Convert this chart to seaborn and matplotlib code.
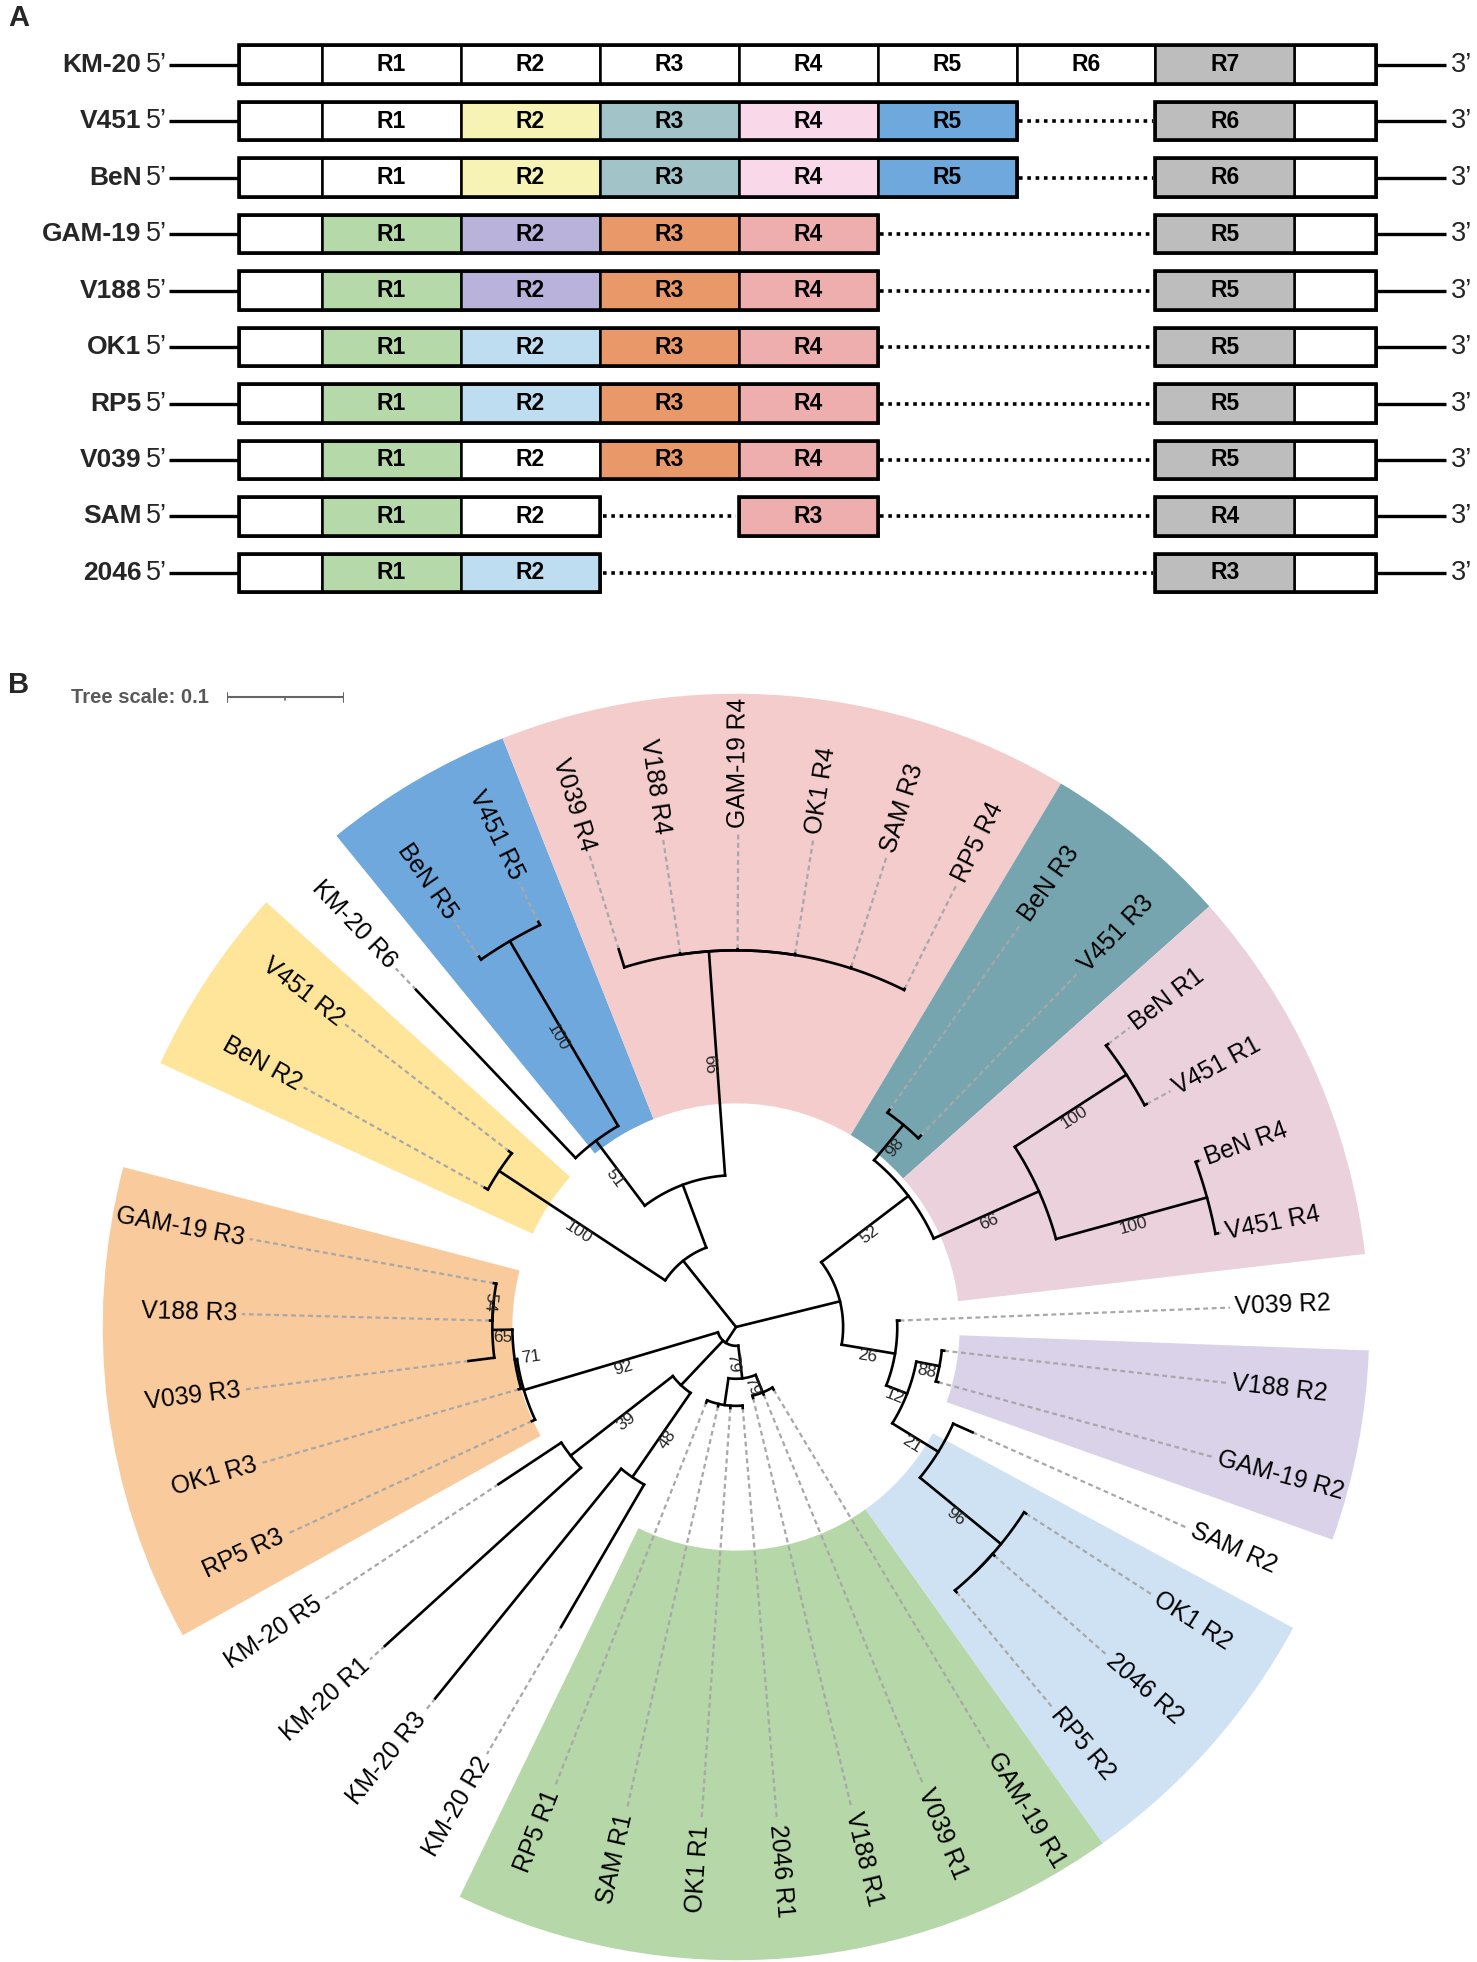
import numpy as np
import matplotlib
matplotlib.use("Agg")
import matplotlib.pyplot as plt
import seaborn as sns

sns.set_theme(style="white")
plt.rcParams['font.family'] = ['Liberation Sans', 'DejaVu Sans']

W, H = 1477, 1962

# ---------------- panel A : repeat layout per strain ----------------
strains = ["KM-20", "V451", "BeN", "GAM-19", "V188", "OK1", "RP5", "V039", "SAM", "2046"]
# slot of each repeat along the gene (missing slots = deleted repeats)
repeat_slots = [
    [0, 1, 2, 3, 4, 5, 6],
    [0, 1, 2, 3, 4, 6],
    [0, 1, 2, 3, 4, 6],
    [0, 1, 2, 3, 6],
    [0, 1, 2, 3, 6],
    [0, 1, 2, 3, 6],
    [0, 1, 2, 3, 6],
    [0, 1, 2, 3, 6],
    [0, 1, 3, 6],
    [0, 1, 6],
]
repeat_types = [
    ["none", "none", "none", "none", "none", "none", "last"],
    ["none", "r2_bv", "r3_bv", "r4_bv", "r5_bv", "last"],
    ["none", "r2_bv", "r3_bv", "r4_bv", "r5_bv", "last"],
    ["r1", "r2_gv", "r3", "r4", "last"],
    ["r1", "r2_gv", "r3", "r4", "last"],
    ["r1", "r2_or", "r3", "r4", "last"],
    ["r1", "r2_or", "r3", "r4", "last"],
    ["r1", "none", "r3", "r4", "last"],
    ["r1", "none", "r4", "last"],
    ["r1", "r2_or", "last"],
]
type_colors = {
    "none": "#FFFFFF", "last": "#BDBDBD",
    "r2_bv": "#F7F3B5", "r3_bv": "#A2C4C9", "r4_bv": "#F9D8EA", "r5_bv": "#6FA8DC",
    "r1": "#B6D9A9", "r2_gv": "#B9B3DB", "r2_or": "#BFDDF1",
    "r3": "#E9986A", "r4": "#EEAEAE",
}

# ---------------- panel B : tree ----------------
leaf_names = ["BeN R2", "V451 R2", "KM-20 R6", "BeN R5", "V451 R5",
              "V039 R4", "V188 R4", "GAM-19 R4", "OK1 R4", "SAM R3", "RP5 R4",
              "BeN R3", "V451 R3", "BeN R1", "V451 R1", "BeN R4", "V451 R4",
              "V039 R2", "V188 R2", "GAM-19 R2", "SAM R2", "OK1 R2", "2046 R2", "RP5 R2",
              "GAM-19 R1", "V039 R1", "V188 R1", "2046 R1", "OK1 R1", "SAM R1", "RP5 R1",
              "KM-20 R2", "KM-20 R3", "KM-20 R1", "KM-20 R5",
              "RP5 R3", "OK1 R3", "V039 R3", "V188 R3", "GAM-19 R3"]
leaf_depth = [0.244, 0.244, 0.395, 0.383, 0.383,
              0.336, 0.321, 0.321, 0.321, 0.321, 0.321,
              0.226, 0.226, 0.397, 0.397, 0.417, 0.417,
              0.139, 0.178, 0.178, 0.220, 0.293, 0.293, 0.293,
              0.062, 0.062, 0.062, 0.069, 0.069, 0.069, 0.069,
              0.295, 0.406, 0.403, 0.242,
              0.191, 0.192, 0.229, 0.209, 0.209]

node_ids = ["root", "Ntop", "Yel", "Nu", "N51", "Blu", "P", "P2",
            "Nright", "N52", "Teal", "Mauve", "R1p", "R4p",
            "N26", "N12", "N88", "N21", "N96", "N96b",
            "Nx", "N79a", "G3", "G4", "Na", "N48", "N39",
            "O92", "O71", "O65", "O54"]
node_children = [
    ["Ntop", "Nright", "Nx"],
    ["Yel", "Nu"],
    ["BeN R2", "V451 R2"],
    ["N51", "P"],
    ["KM-20 R6", "Blu"],
    ["BeN R5", "V451 R5"],
    ["V039 R4", "P2"],
    ["V188 R4", "GAM-19 R4", "OK1 R4", "SAM R3", "RP5 R4"],
    ["N52", "N26"],
    ["Teal", "Mauve"],
    ["BeN R3", "V451 R3"],
    ["R1p", "R4p"],
    ["BeN R1", "V451 R1"],
    ["BeN R4", "V451 R4"],
    ["V039 R2", "N12"],
    ["N88", "N21"],
    ["V188 R2", "GAM-19 R2"],
    ["SAM R2", "N96"],
    ["OK1 R2", "N96b"],
    ["2046 R2", "RP5 R2"],
    ["N79a", "Na", "O92"],
    ["G3", "G4"],
    ["GAM-19 R1", "V039 R1", "V188 R1"],
    ["2046 R1", "OK1 R1", "SAM R1", "RP5 R1"],
    ["N48", "N39"],
    ["KM-20 R2", "KM-20 R3"],
    ["KM-20 R1", "KM-20 R5"],
    ["RP5 R3", "O71"],
    ["OK1 R3", "O65"],
    ["V039 R3", "O54"],
    ["V188 R3", "GAM-19 R3"],
]
node_depth = [0.0, 0.072, 0.241, 0.129, 0.198, 0.380, 0.320, 0.320,
              0.091, 0.184, 0.223, 0.282, 0.395, 0.415,
              0.137, 0.156, 0.176, 0.202, 0.291, 0.291,
              0.016, 0.044, 0.060, 0.067, 0.068, 0.155, 0.178,
              0.188, 0.190, 0.207, 0.207]
node_support = [None, None, 100, None, 51, 100, 66, None,
                None, 52, 98, 66, 100, 100,
                26, 12, 88, 21, 96, None,
                None, 79, 79, None, None, 48, 39,
                92, 71, 65, 54]

clade_first = ["BeN R2", "BeN R5", "V039 R4", "BeN R3", "BeN R1", "V188 R2", "OK1 R2", "GAM-19 R1", "RP5 R3"]
clade_last = ["V451 R2", "V451 R5", "RP5 R4", "V451 R3", "V451 R4", "GAM-19 R2", "RP5 R2", "RP5 R1", "GAM-19 R3"]
clade_colors = ["#FFE599", "#6FA8DC", "#F4CCCC", "#76A5AF", "#EAD1DC", "#D9D2E9", "#CFE2F3", "#B6D7A8", "#F9CB9C"]

fig = plt.figure(figsize=(W / 100, H / 100), dpi=100)

# ----- panel A drawing -----
ax_a = fig.add_axes([0, 1 - 620 / H, 1, 620 / H])
ax_a.set_xlim(-2.318, 8.315)
ax_a.set_ylim(9.832, -1.142)
ax_a.set_axis_off()
bh = 0.68
for i, (name, slots, kinds) in enumerate(zip(strains, repeat_slots, repeat_types)):
    ax_a.plot([-1.10, -0.6], [i, i], color="black", lw=2.4, solid_capstyle="butt")
    ax_a.plot([7.59, 8.09], [i, i], color="black", lw=2.4, solid_capstyle="butt")
    ax_a.barh(i, 0.6, left=-0.6, height=bh, color="white", edgecolor="black", lw=1.8)
    ax_a.barh(i, 0.59, left=7, height=bh, color="white", edgecolor="black", lw=1.8)
    for n, (s, k) in enumerate(zip(slots, kinds)):
        ax_a.barh(i, 1, left=s, height=bh, color=type_colors[k], edgecolor="black", lw=1.8)
        ax_a.text(s + 0.5, i, f"R{n + 1}", ha="center", va="center",
                  fontsize=16.5, fontweight="bold", color="black")
    # contiguous blocks and deletion gaps
    runs = []
    start = prev = slots[0]
    for s in slots[1:]:
        if s != prev + 1:
            runs.append([start, prev + 1])
            start = s
        prev = s
    runs.append([start, prev + 1])
    runs[0][0] = -0.6
    runs[-1][1] = 7.59
    for a, b in runs:
        ax_a.barh(i, b - a, left=a, height=bh, fill=False, edgecolor="black", lw=2.6)
    for r1, r2 in zip(runs[:-1], runs[1:]):
        ax_a.plot([r1[1] + 0.02, r2[0] - 0.02], [i, i], color="black", lw=2.6,
                  ls=(0, (1.0, 1.3)))
    ax_a.text(-1.30, i, name, ha="right", va="center", fontsize=19, fontweight="bold")
    ax_a.text(-1.115, i, "5\u2019", ha="right", va="center", fontsize=19.5)
    ax_a.text(8.13, i, "3\u2019", ha="left", va="center", fontsize=19.5)

fig.text(8 / W, 1 - 4 / H, "A", fontsize=21, fontweight="bold", va="top", ha="left")
fig.text(8 / W, 1 - 671 / H, "B", fontsize=21, fontweight="bold", va="top", ha="left")

# ----- panel B drawing -----
cx, cy, px_per_unit, rmax = 736, 1327, 1177.0, 0.6
rad_px = rmax * px_per_unit
ax = fig.add_axes([(cx - rad_px) / W, 1 - (cy + rad_px) / H, 2 * rad_px / W, 2 * rad_px / H],
                  projection="polar")
ax.set_ylim(0, rmax)
ax.set_axis_off()

start_deg, step_deg = 151.0, 8.75
angle = {nm: start_deg - step_deg * k for k, nm in enumerate(leaf_names)}
depth = dict(zip(leaf_names, leaf_depth))
depth.update(zip(node_ids, node_depth))
children = dict(zip(node_ids, node_children))
support = dict(zip(node_ids, node_support))
parent = {c: n for n in node_ids for c in children[n]}


def place(n):
    if n not in angle:
        ch = children[n]
        for c in ch:
            place(c)
        angle[n] = (angle[ch[0]] + angle[ch[-1]]) / 2
    return angle[n]


place("root")

# clade colour ranges
r_in, r_out = 0.19, 0.538
for f, l, c in zip(clade_first, clade_last, clade_colors):
    hi = angle[f] + step_deg / 2
    lo = angle[l] - step_deg / 2
    ax.bar(np.deg2rad((hi + lo) / 2), r_out - r_in, width=np.deg2rad(hi - lo), bottom=r_in,
           color=c, edgecolor="none", zorder=0)

label_r = 0.424
for nm in leaf_names:
    a = angle[nm]
    t = np.deg2rad(a)
    ax.plot([t, t], [depth[nm], label_r - 0.004], color="#A8A8A8", lw=1.6,
            ls=(0, (2.2, 1.6)), zorder=1)
    flip = np.cos(t) < 0
    ax.text(t, label_r, nm, rotation=a + 180 if flip else a, rotation_mode="anchor",
            ha="right" if flip else "left", va="center", fontsize=17.7, color="black")

for n in node_ids:
    ch = children[n]
    r = depth[n]
    if r > 0:
        th = np.deg2rad(np.linspace(angle[ch[0]], angle[ch[-1]], 80))
        ax.plot(th, np.full_like(th, r), color="black", lw=1.9, zorder=3,
                solid_capstyle="projecting")
    for c in ch:
        t = np.deg2rad(angle[c])
        ax.plot([t, t], [r, depth[c]], color="black", lw=1.9, zorder=3,
                solid_capstyle="projecting")
    if support[n] is not None:
        a = angle[n]
        t = np.deg2rad(a)
        pr = depth[parent[n]]
        blen = depth[n] - pr
        flip = np.cos(t) < 0
        rot = a + 180 if flip else a
        if blen >= 0.01:
            # text along the branch, hanging under it
            ax.text(t, pr + blen / 2, str(support[n]), rotation=rot,
                    rotation_mode="anchor", ha="center", va="top", fontsize=12.5, zorder=4)
        elif blen > 0:
            # very short branch: text just inside the parent arc
            ax.text(t, pr - 0.004, str(support[n]), rotation=rot, rotation_mode="anchor",
                    ha="left" if flip else "right", va="center", fontsize=12.5, zorder=4)
        else:
            # zero-length branch: text along the parent arc, just inside it
            ax.text(t, depth[n] - 0.003, str(support[n]), rotation=a + 90 if flip else a - 90,
                    rotation_mode="anchor", ha="center", va="top", fontsize=12.5, zorder=4)

# tree scale bar (0.1 units)
ax_s = fig.add_axes([226.6 / W, 1 - 707 / H, 0.1 * px_per_unit / W, 20 / H])
ax_s.set_xlim(0, 0.1)
ax_s.set_ylim(-1, 1)
ax_s.set_axis_off()
ax_s.plot([0, 0.1], [0, 0], color="#666666", lw=1.5)
for xv in [0, 0.1]:
    ax_s.plot([xv, xv], [-0.45, 0.45], color="#666666", lw=1.5)
ax_s.plot([0.05, 0.05], [0, -0.3], color="#666666", lw=1.2)
fig.text(71 / W, 1 - 697 / H, "Tree scale: 0.1", fontsize=14.5, fontweight="bold",
         color="#595959", va="center", ha="left")

fig.savefig("out.png", dpi=100, facecolor="white")
